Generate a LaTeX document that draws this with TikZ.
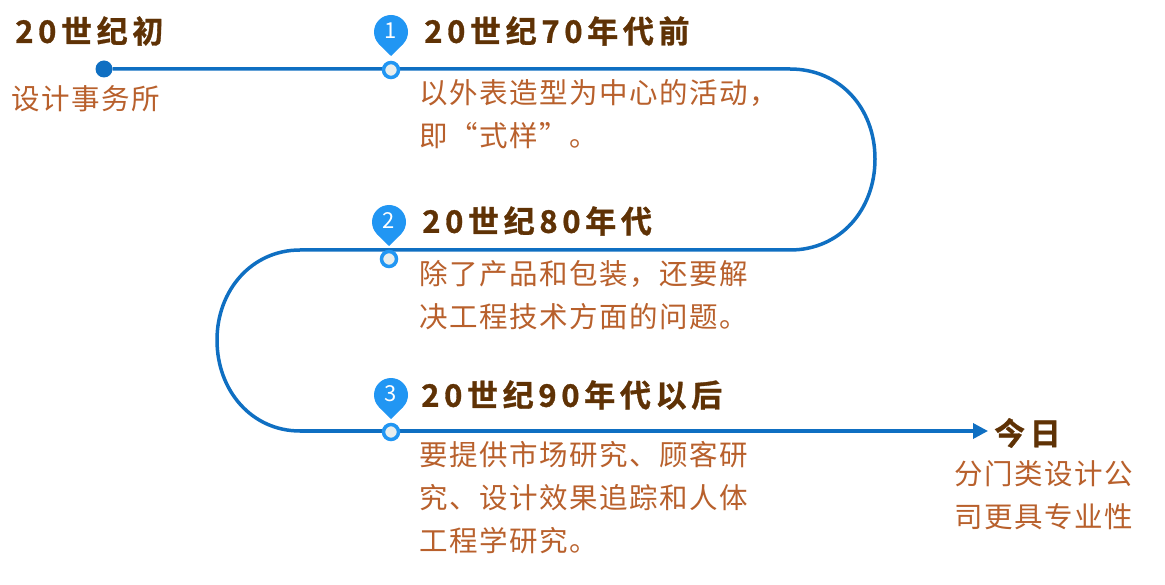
\documentclass[tikz,border=0pt]{standalone}
\usepackage{fontspec}
\newfontfamily\bodyf[LetterSpace=5.3]{Noto Sans CJK SC}
\newfontfamily\headf[LetterSpace=15,FakeBold=1]{Noto Sans CJK SC Bold}
\setmainfont{Noto Sans CJK SC}
\usetikzlibrary{arrows.meta}
\definecolor{linec}{HTML}{0F6FC2}
\definecolor{pinc}{HTML}{2196F3}
\definecolor{headc}{HTML}{5F3205}
\definecolor{bodyc}{HTML}{B8602C}
\definecolor{dotc}{HTML}{E8EEEE}
\tikzset{
 x=1pt,y=-1pt,
 headt/.style={anchor=west,inner sep=0pt,text=headc,font=\headf\fontsize{31}{34}\selectfont},
 bodyt/.style={anchor=north west,inner sep=0pt,align=left,text=bodyc,font=\bodyf\fontsize{28.5}{43}\selectfont},
 stopdot/.style={circle,draw=pinc,fill=dotc,line width=3.5pt,minimum size=15pt,inner sep=0pt},
 startdot/.style={circle,fill=linec,minimum size=17pt,inner sep=0pt},
 mainline/.style={draw=linec,line width=3.5pt},
 pinnum/.style={text=white,inner sep=0pt,font=\fontsize{22}{22}\selectfont},
}
\newcommand{\drawpin}[3]{%
 \fill[pinc] (#1,#2) circle[radius=17pt];
 \fill[pinc] (#1,#2+24) -- (#1-12.6,#2+11.5) -- (#1+12.6,#2+11.5) -- cycle;
 \node[pinnum] at (#1,#2-1) {#3};}
\begin{document}
\begin{tikzpicture}
\useasboundingbox (0,0) rectangle (1165,585);
\node[startdot] (s) at (104,69) {};
\coordinate (a) at (790,69);
\coordinate (b) at (790,250);
\coordinate (c) at (300,250);
\coordinate (d) at (300,431);
\coordinate (e) at (988,431);
\draw[mainline] (s) -- (a) .. controls (840,69) and (875,108) .. (875,159) .. controls (875,210) and (840,250) .. (b) -- (c)
 .. controls (252,250) and (217,290) .. (217,340) .. controls (217,391) and (252,431) .. (d);
\draw[mainline,-{Triangle[length=15pt,width=15pt]}] (d) -- (e);
\node[stopdot] (p1) at (391,70) {};
\node[stopdot] (p2) at (389,259) {};
\node[stopdot] (p3) at (391,432) {};
\drawpin{391}{32}{1}
\drawpin{389}{222}{2}
\drawpin{391}{395}{3}
\node[headt] (h0) at (15,31) {20世纪初};
\node[headt] (h1) at (424,31) {20世纪70年代前};
\node[headt] (h2) at (422,221) {20世纪80年代};
\node[headt] (h3) at (421,395) {20世纪90年代以后};
\node[headt] (h4) at (994,433) {今日};
\node[bodyt] (t0) at (11,85) {设计事务所};
\node[bodyt] (t1) at (419,79) {以外表造型为中心的活动，\\即“式样”。};
\node[bodyt] (t2) at (419,260) {除了产品和包装，还要解\\决工程技术方面的问题。};
\node[bodyt] (t3) at (419,441) {要提供市场研究、顾客研\\究、设计效果追踪和人体\\工程学研究。};
\node[bodyt] (t4) at (954,460) {分门类设计公\\司更具专业性};
\end{tikzpicture}
\end{document}
